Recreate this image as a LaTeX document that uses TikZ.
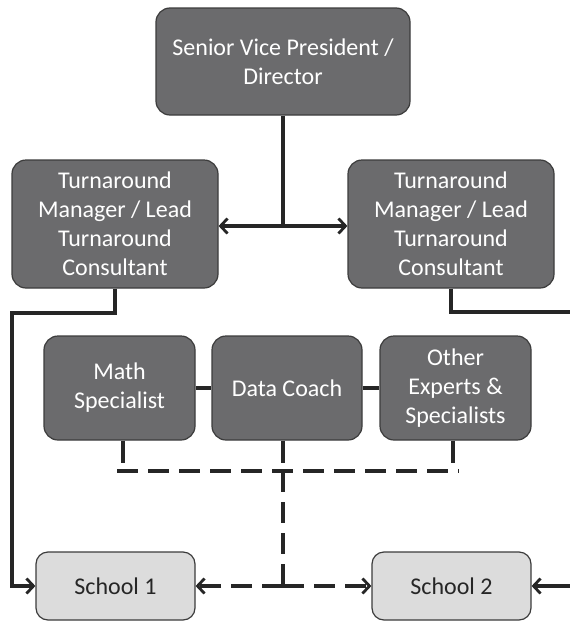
\documentclass[tikz,border=0pt]{standalone}
\usepackage{fontspec}
\setmainfont{Carlito}
\usetikzlibrary{arrows.meta}
\definecolor{boxdark}{HTML}{6B6B6D}
\definecolor{boxedge}{HTML}{3C3C3C}
\definecolor{boxlight}{HTML}{DCDCDC}
\begin{document}
\begin{tikzpicture}[x=1pt,y=-1pt,
  darkbox/.style={draw=boxedge,line width=1.2pt,fill=boxdark,rounded corners=14pt,text=white,
    font=\fontsize{24}{29}\selectfont,align=center,inner sep=0pt},
  lightbox/.style={draw=boxedge,line width=1.2pt,fill=boxlight,rounded corners=12pt,text=black!85,
    font=\fontsize{24}{29}\selectfont,align=center,inner sep=0pt,minimum width=159pt,minimum height=68pt},
  conn/.style={line width=3.2pt,draw=black!85},
  dconn/.style={line width=3.2pt,draw=black!85,dash pattern=on 21pt off 10pt},
  tip/.style={-{Straight Barb[length=7pt,width=15pt,line width=2.8pt]}}
]
\useasboundingbox (0,0) rectangle (570,624);
\node[darkbox,minimum width=254pt,minimum height=107pt] (svp) at (283,61.5) {Senior Vice President /\\Director};
\node[darkbox,minimum width=206pt,minimum height=128pt] (tml) at (115,224) {Turnaround\\Manager / Lead\\Turnaround\\Consultant};
\node[darkbox,minimum width=206pt,minimum height=128pt] (tmr) at (451,224) {Turnaround\\Manager / Lead\\Turnaround\\Consultant};
\node[darkbox,minimum width=151pt,minimum height=104pt] (math) at (119.5,388) {Math\\Specialist};
\node[darkbox,minimum width=150pt,minimum height=104pt] (data) at (287,388) {Data Coach};
\node[darkbox,minimum width=151pt,minimum height=104pt] (other) at (455.5,388) {Other\\Experts \&\\Specialists};
\node[lightbox] (s1) at (115.5,586) {School 1};
\node[lightbox] (s2) at (451.5,586) {School 2};

\coordinate (mid) at (283,226);
\coordinate (lturn) at (12,313);
\coordinate (rturn) at (570,312);
\coordinate (redge) at (570,586);
\coordinate (dl) at (117,471);
\coordinate (dr) at (459,471);
\coordinate (dc) at (283,471);
\coordinate (dj) at (283,586);

% top
\draw[conn] (svp.south -| mid) -- (mid);
\draw[conn,{Straight Barb[length=7pt,width=15pt,line width=2.8pt]}-{Straight Barb[length=7pt,width=15pt,line width=2.8pt]}] (tml.east |- mid) -- (tmr.west |- mid);
% managers to schools
\draw[conn,tip] (tml.south) |- (lturn) |- (s1.west);
\draw[conn] (tmr.south) |- (rturn);
\draw[conn,tip] (redge) -- (s2.east);
% specialists
\draw[conn] (math) -- (data);
\draw[conn] (data) -- (other);
\draw[conn] (math.south -| 123,0) -- (123,463);
\draw[conn] (data.south -| dc) -- (283,463);
\draw[conn] (other.south -| 453,0) -- (453,463);
\draw[dconn] (dl) -- (dr);
\draw[dconn] (dc) -- (dj);
\draw[dconn,tip] (dj) -- (s1.east);
\draw[dconn,tip] (dj) -- (s2.west);
\end{tikzpicture}
\end{document}
